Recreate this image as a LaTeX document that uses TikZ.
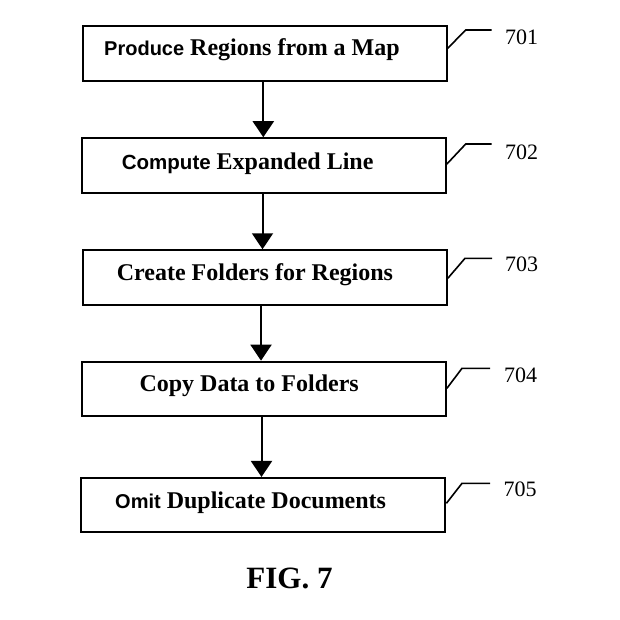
\documentclass[tikz,border=0pt]{standalone}
\usepackage{fontspec}
\setmainfont{Liberation Serif}
\newfontfamily\arialfont{Liberation Sans}
\usetikzlibrary{arrows.meta}
\begin{document}
\begin{tikzpicture}[x=1pt,y=-1pt,
  box/.style={draw=black, line width=2pt, rectangle, inner sep=0pt, minimum width=364pt, minimum height=54.5pt},
  boxtext/.style={anchor=base west, inner sep=0pt, font=\fontsize{24}{28}\selectfont\bfseries},
  sanspart/.style={},
  flow/.style={draw=black, line width=2pt, -{Triangle[length=16pt,width=21pt]}},
  leader/.style={draw=black, line width=1.6pt},
  reflabel/.style={anchor=base west, inner sep=0pt, font=\fontsize{22}{26}\selectfont},
  caption/.style={anchor=base, inner sep=0pt, font=\fontsize{31}{36}\selectfont\bfseries}]
\useasboundingbox (0,0) rectangle (619,620);

% boxes
\node[box] (b1) at (264.7,53.7) {};
\node[box] (b2) at (263.9,165.5) {};
\node[box] (b3) at (264.8,277.5) {};
\node[box] (b4) at (263.9,388.9) {};
\node[box] (b5) at (263.4,505.2) {};

% texts
\node[boxtext] (t1) at (104,56) {{\arialfont\fontsize{20}{24}\selectfont Produce} Regions from a Map};
\node[boxtext] (t2) at (121.7,169.3) {{\arialfont\fontsize{20.5}{24}\selectfont Compute} Expanded Line};
\node[boxtext] (t3) at (116.7,280.7) {Create Folders for Regions};
\node[boxtext] (t4) at (139.3,391) {Copy Data to Folders};
\node[boxtext] (t5) at (115,508.3) {{\arialfont\fontsize{20}{24}\selectfont Omit} Duplicate Documents};

% connectors
\draw[flow] (b1.south -| 263.3,0) -- (b2.north -| 263.3,0);
\draw[flow] (b2.south -| 262.5,0) -- (b3.north -| 262.5,0);
\draw[flow] (b3.south -| 261,0) -- (b4.north -| 261,0);
\draw[flow] (b4.south -| 261.5,0) -- (b5.north -| 261.5,0);

% leader lines and reference numbers
\coordinate (l1a) at (465.7,30);   \coordinate (l1b) at (491.7,30);
\coordinate (l2a) at (465.7,144);  \coordinate (l2b) at (491.7,144);
\coordinate (l3a) at (465,258.3);  \coordinate (l3b) at (492,258.3);
\coordinate (l4a) at (462,368.3);  \coordinate (l4b) at (490,368.3);
\coordinate (l5a) at (462,483.3);  \coordinate (l5b) at (490,483.3);
\draw[leader] (b1.east |- 0,48.3) -- (l1a) -- (l1b);
\draw[leader] (b2.east |- 0,164) -- (l2a) -- (l2b);
\draw[leader] (b3.east |- 0,278.3) -- (l3a) -- (l3b);
\draw[leader] (b4.east |- 0,388.3) -- (l4a) -- (l4b);
\draw[leader] (b5.east |- 0,503.3) -- (l5a) -- (l5b);
\node[reflabel] (r1) at (505,45) {701};
\node[reflabel] (r2) at (505,160) {702};
\node[reflabel] (r3) at (505,271.7) {703};
\node[reflabel] (r4) at (504,382.3) {704};
\node[reflabel] (r5) at (503.3,496.7) {705};

% caption
\node[caption] (fig) at (289.5,588.3) {FIG. 7};
\end{tikzpicture}
\end{document}
